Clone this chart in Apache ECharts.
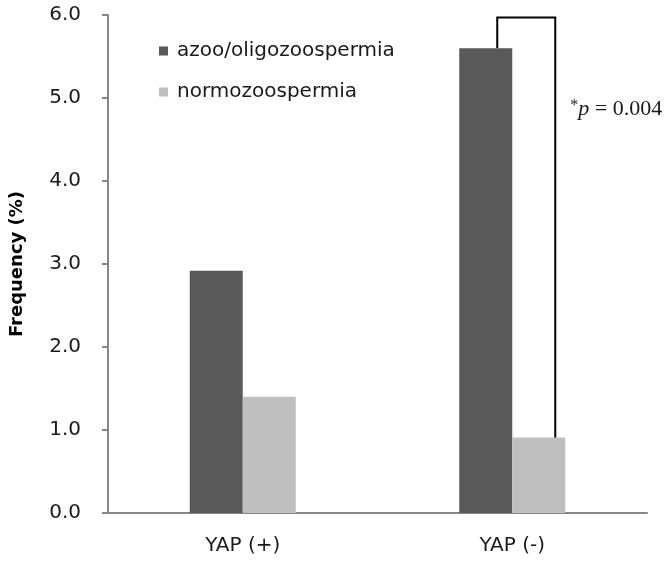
<!DOCTYPE html>
<html>
<head>
<meta charset="utf-8">
<script src="https://cdn.jsdelivr.net/npm/echarts@6/dist/echarts.min.js"></script>
<style>
  html, body { margin: 0; padding: 0; background: #fff; }
  #main { width: 672px; height: 565px; }
</style>
</head>
<body>
<div id="main"></div>
<script>
// categories and values
var categories = ['YAP (+)', 'YAP (-)'];
var azooValues = [2.92, 5.6];
var normoValues = [1.4, 0.91];
var seriesNames = ['azoo/oligozoospermia', 'normozoospermia'];
var yTicks = [0, 1, 2, 3, 4, 5, 6];

// significance bracket over YAP (-)
var bracketTop = 5.97;
var bracketLow = 0.85;
var pLabel = 'p';
var pValue = ' = 0.004';

var chart = echarts.init(document.getElementById('main'));
var font = 'DejaVu Sans, sans-serif';

var option = {
    animation: false,
    grid: { left: 107, right: 25, top: 15, bottom: 52 },
    legend: {
        orient: 'vertical',
        left: 154,
        top: 36,
        itemWidth: 9,
        itemHeight: 9,
        itemGap: 21,
        icon: 'rect',
        textStyle: { fontFamily: font, fontSize: 20, color: '#1a1a1a', padding: [0, 0, 0, 4] },
        data: seriesNames
    },
    xAxis: {
        type: 'category',
        data: categories,
        axisLine: { lineStyle: { color: '#868686', width: 2 } },
        axisTick: { show: false },
        axisLabel: { fontFamily: font, fontSize: 20, color: '#1a1a1a', margin: 23 }
    },
    yAxis: {
        type: 'value',
        min: yTicks[0],
        max: yTicks[yTicks.length - 1],
        interval: 1,
        name: 'Frequency (%)',
        nameLocation: 'middle',
        nameGap: 82,
        nameTextStyle: { fontFamily: font, fontSize: 18, fontWeight: 'bold', color: '#000' },
        axisLine: { show: true, lineStyle: { color: '#868686', width: 2 } },
        axisTick: { show: true, length: 6, lineStyle: { color: '#868686', width: 2 } },
        splitLine: { show: false },
        axisLabel: {
            fontFamily: font, fontSize: 20, color: '#1a1a1a', margin: 27,
            formatter: function (v) { return v.toFixed(1); }
        }
    },
    series: [
        {
            name: seriesNames[0],
            type: 'bar',
            data: azooValues,
            barWidth: 53,
            barGap: 0,
            itemStyle: { color: '#595959' }
        },
        {
            name: seriesNames[1],
            type: 'bar',
            data: normoValues,
            barWidth: 53,
            barGap: 0,
            itemStyle: { color: '#bfbfbf' }
        }
    ]
};

chart.setOption(option);

// bracket drawn from data values
var cx = chart.convertToPixel({ xAxisIndex: 0 }, categories[1]);
var yTop = chart.convertToPixel({ yAxisIndex: 0 }, bracketTop);
var yA = chart.convertToPixel({ yAxisIndex: 0 }, azooValues[1]);
var yB = chart.convertToPixel({ yAxisIndex: 0 }, bracketLow);
var xL = cx - 15, xR = cx + 43;

chart.setOption({
    graphic: [
        {
            type: 'polyline',
            shape: { points: [[xL, yA], [xL, yTop], [xR, yTop], [xR, yB]] },
            style: { stroke: '#000', lineWidth: 2, fill: null }
        },
        {
            type: 'text',
            left: xR + 15,
            top: 98,
            style: {
                rich: {
                    s: { fontFamily: 'Liberation Serif, serif', fontSize: 16, verticalAlign: 'top', padding: [0, 0, 6, 0], fill: '#1a1a1a' },
                    p: { fontFamily: 'Liberation Serif, serif', fontSize: 22, fontStyle: 'italic', fill: '#1a1a1a' },
                    n: { fontFamily: 'Liberation Serif, serif', fontSize: 22, fill: '#1a1a1a' }
                },
                text: '{s|*}{p|' + pLabel + '}{n|' + pValue + '}'
            }
        }
    ]
});
</script>
</body>
</html>
